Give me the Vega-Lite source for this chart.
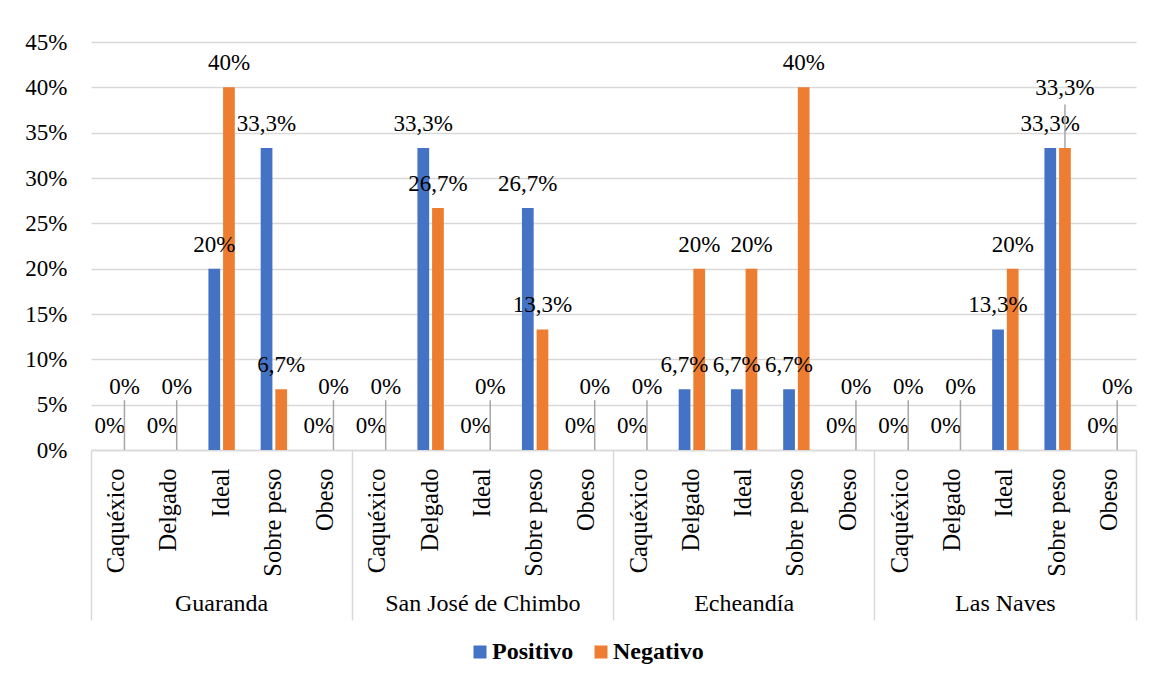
{
  "$schema": "https://vega.github.io/schema/vega-lite/v6.json",
  "autosize": {"type": "none"},
  "width": 1045,
  "height": 408,
  "padding": {"left": 91, "top": 42, "right": 15, "bottom": 232},
  "background": "white",
  "config": {
    "locale": {"number": {"decimal": ",", "thousands": ".", "grouping": [3], "currency": ["", " €"]}},
    "view": {"stroke": null},
    "font": "Liberation Serif, Times New Roman, serif",
    "axis": {"labelFont": "Liberation Serif, Times New Roman, serif", "labelColor": "#000000", "titleFont": "Liberation Serif, Times New Roman, serif"},
    "legend": {"labelFont": "Liberation Serif, Times New Roman, serif"},
    "text": {"font": "Liberation Serif, Times New Roman, serif", "fontSize": 23, "color": "#000000"}
  },
  "data": {
    "values": [
      {"ciudad": "Guaranda", "categoria": "Caquéxico", "serie": "Positivo", "valor": 0},
      {"ciudad": "Guaranda", "categoria": "Caquéxico", "serie": "Negativo", "valor": 0},
      {"ciudad": "Guaranda", "categoria": "Delgado", "serie": "Positivo", "valor": 0},
      {"ciudad": "Guaranda", "categoria": "Delgado", "serie": "Negativo", "valor": 0},
      {"ciudad": "Guaranda", "categoria": "Ideal", "serie": "Positivo", "valor": 0.2},
      {"ciudad": "Guaranda", "categoria": "Ideal", "serie": "Negativo", "valor": 0.4},
      {"ciudad": "Guaranda", "categoria": "Sobre peso", "serie": "Positivo", "valor": 0.333},
      {"ciudad": "Guaranda", "categoria": "Sobre peso", "serie": "Negativo", "valor": 0.067},
      {"ciudad": "Guaranda", "categoria": "Obeso", "serie": "Positivo", "valor": 0},
      {"ciudad": "Guaranda", "categoria": "Obeso", "serie": "Negativo", "valor": 0},
      {"ciudad": "San José de Chimbo", "categoria": "Caquéxico", "serie": "Positivo", "valor": 0},
      {"ciudad": "San José de Chimbo", "categoria": "Caquéxico", "serie": "Negativo", "valor": 0},
      {"ciudad": "San José de Chimbo", "categoria": "Delgado", "serie": "Positivo", "valor": 0.333},
      {"ciudad": "San José de Chimbo", "categoria": "Delgado", "serie": "Negativo", "valor": 0.267},
      {"ciudad": "San José de Chimbo", "categoria": "Ideal", "serie": "Positivo", "valor": 0},
      {"ciudad": "San José de Chimbo", "categoria": "Ideal", "serie": "Negativo", "valor": 0},
      {"ciudad": "San José de Chimbo", "categoria": "Sobre peso", "serie": "Positivo", "valor": 0.267},
      {"ciudad": "San José de Chimbo", "categoria": "Sobre peso", "serie": "Negativo", "valor": 0.133},
      {"ciudad": "San José de Chimbo", "categoria": "Obeso", "serie": "Positivo", "valor": 0},
      {"ciudad": "San José de Chimbo", "categoria": "Obeso", "serie": "Negativo", "valor": 0},
      {"ciudad": "Echeandía", "categoria": "Caquéxico", "serie": "Positivo", "valor": 0},
      {"ciudad": "Echeandía", "categoria": "Caquéxico", "serie": "Negativo", "valor": 0},
      {"ciudad": "Echeandía", "categoria": "Delgado", "serie": "Positivo", "valor": 0.067},
      {"ciudad": "Echeandía", "categoria": "Delgado", "serie": "Negativo", "valor": 0.2},
      {"ciudad": "Echeandía", "categoria": "Ideal", "serie": "Positivo", "valor": 0.067},
      {"ciudad": "Echeandía", "categoria": "Ideal", "serie": "Negativo", "valor": 0.2},
      {"ciudad": "Echeandía", "categoria": "Sobre peso", "serie": "Positivo", "valor": 0.067},
      {"ciudad": "Echeandía", "categoria": "Sobre peso", "serie": "Negativo", "valor": 0.4},
      {"ciudad": "Echeandía", "categoria": "Obeso", "serie": "Positivo", "valor": 0},
      {"ciudad": "Echeandía", "categoria": "Obeso", "serie": "Negativo", "valor": 0},
      {"ciudad": "Las Naves", "categoria": "Caquéxico", "serie": "Positivo", "valor": 0},
      {"ciudad": "Las Naves", "categoria": "Caquéxico", "serie": "Negativo", "valor": 0},
      {"ciudad": "Las Naves", "categoria": "Delgado", "serie": "Positivo", "valor": 0},
      {"ciudad": "Las Naves", "categoria": "Delgado", "serie": "Negativo", "valor": 0},
      {"ciudad": "Las Naves", "categoria": "Ideal", "serie": "Positivo", "valor": 0.133},
      {"ciudad": "Las Naves", "categoria": "Ideal", "serie": "Negativo", "valor": 0.2},
      {"ciudad": "Las Naves", "categoria": "Sobre peso", "serie": "Positivo", "valor": 0.333},
      {"ciudad": "Las Naves", "categoria": "Sobre peso", "serie": "Negativo", "valor": 0.333},
      {"ciudad": "Las Naves", "categoria": "Obeso", "serie": "Positivo", "valor": 0},
      {"ciudad": "Las Naves", "categoria": "Obeso", "serie": "Negativo", "valor": 0}
    ]
  },
  "transform": [
    {"calculate": "datum.ciudad + '|' + datum.categoria", "as": "clave"}
  ],
  "layer": [
    {
      "encoding": {
        "x": {
          "field": "clave",
          "type": "nominal",
          "sort": null,
          "title": null,
          "scale": {"paddingInner": 0.495, "paddingOuter": 0.2475},
          "axis": {
            "orient": "bottom",
            "labelExpr": "split(datum.label, '|')[1]",
            "labelAngle": -90,
            "labelAlign": "right",
            "labelBaseline": "middle",
            "labelFontSize": 24.5,
            "labelPadding": 18,
            "ticks": false,
            "domainColor": "#d9d9d9",
            "domainWidth": 1.5,
            "grid": false
          }
        },
        "xOffset": {"field": "serie", "type": "nominal", "sort": ["Positivo", "Negativo"], "scale": {"paddingInner": 0.2, "paddingOuter": 0}},
        "y": {
          "field": "valor",
          "type": "quantitative",
          "title": null,
          "scale": {"domain": [0, 0.45], "nice": false},
          "axis": {
            "values": [0, 0.05, 0.1, 0.15, 0.2, 0.25, 0.3, 0.35, 0.4, 0.45],
            "format": ".0%",
            "labelFontSize": 23,
            "labelPadding": 24,
            "domain": false,
            "ticks": false,
            "gridColor": "#d9d9d9",
            "gridWidth": 1.5
          }
        }
      },
      "layer": [
        {
          "mark": {"type": "bar"},
          "encoding": {
            "color": {
              "field": "serie",
              "type": "nominal",
              "sort": ["Positivo", "Negativo"],
              "scale": {"domain": ["Positivo", "Negativo"], "range": ["#4472C4", "#ED7D31"]},
              "legend": {
                "title": null,
                "orient": "none",
                "direction": "horizontal",
                "legendX": 377,
                "legendY": 598,
                "symbolType": "square",
                "symbolSize": 169,
                "symbolStrokeWidth": 0,
                "labelFontSize": 24,
                "labelFontWeight": "bold",
                "labelColor": "#000000",
                "labelOffset": 0,
                "columnPadding": 15
              }
            }
          }
        },
        {
          "transform": [
            {"filter": "!(datum.serie == 'Negativo' && datum.valor == 0) && !(datum.ciudad == 'Las Naves' && datum.categoria == 'Sobre peso' && datum.serie == 'Negativo')"}
          ],
          "mark": {"type": "text", "baseline": "middle", "align": "center", "dy": -24},
          "encoding": {"text": {"field": "valor", "type": "quantitative", "format": ".1~%"}}
        },
        {
          "transform": [{"filter": "datum.serie == 'Negativo' && datum.valor == 0"}],
          "mark": {"type": "rule", "color": "#a6a6a6", "strokeWidth": 1.5},
          "encoding": {"y2": {"datum": 0.055}}
        },
        {
          "transform": [{"filter": "datum.serie == 'Negativo' && datum.valor == 0"}],
          "mark": {"type": "text", "baseline": "middle", "align": "center", "dy": -63},
          "encoding": {"text": {"field": "valor", "type": "quantitative", "format": ".1~%"}}
        },
        {
          "transform": [{"filter": "datum.ciudad == 'Las Naves' && datum.categoria == 'Sobre peso' && datum.serie == 'Negativo'"}],
          "mark": {"type": "rule", "color": "#a6a6a6", "strokeWidth": 1.5},
          "encoding": {"y2": {"datum": 0.381}}
        },
        {
          "transform": [{"filter": "datum.ciudad == 'Las Naves' && datum.categoria == 'Sobre peso' && datum.serie == 'Negativo'"}],
          "mark": {"type": "text", "baseline": "middle", "align": "center", "dy": -60},
          "encoding": {"text": {"field": "valor", "type": "quantitative", "format": ".1~%"}}
        }
      ]
    },
    {
      "mark": {"type": "bar", "opacity": 0},
      "encoding": {
        "x": {
          "field": "ciudad",
          "type": "nominal",
          "sort": null,
          "title": null,
          "scale": {"type": "band", "paddingInner": 0, "paddingOuter": 0},
          "axis": {
            "orient": "bottom",
            "labelAngle": 0,
            "labelFontSize": 24,
            "labelBaseline": "middle",
            "labelLimit": 500,
            "bandPosition": 1,
            "tickExtra": true,
            "tickSize": 170,
            "tickColor": "#d9d9d9",
            "tickWidth": 1.5,
            "labelPadding": -17,
            "domain": false,
            "grid": false
          }
        },
        "y": {"datum": 0, "type": "quantitative"}
      }
    }
  ],
  "resolve": {"scale": {"x": "independent"}}
}
